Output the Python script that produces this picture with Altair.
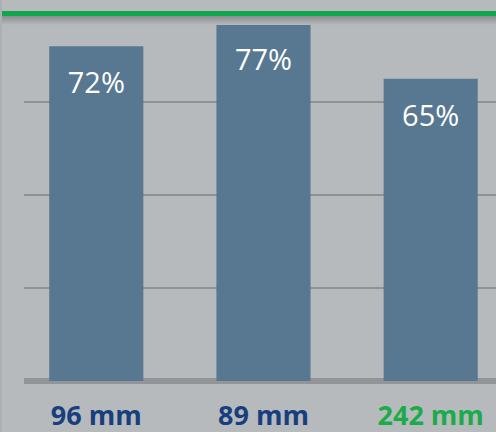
import altair as alt
import pandas as pd

# Share of samples per window size
categories = ["96 mm", "89 mm", "242 mm"]
shares = [72, 77, 65]
share_labels = ["72%", "77%", "65%"]
grid_values = [20, 40, 60]

BG = "#b7babd"
BAR = "#587891"
GRID = "#8f9295"
BLUE = "#173f7e"
GREEN = "#1aab4b"
FONT = "Open Sans"

df = pd.DataFrame({"cat": categories, "share": shares, "label": share_labels})

x_enc = alt.X(
    "cat:N",
    sort=categories,
    scale=alt.Scale(paddingInner=0.437, paddingOuter=0.13, align=0.58),
    axis=alt.Axis(
        title=None,
        labelAngle=0,
        ticks=False,
        domain=False,
        labelFont=FONT,
        labelFontSize=27,
        labelFontWeight="bold",
        labelBaseline="alphabetic",
        labelPadding=43,
        labelColor=alt.ExprRef("datum.value == '242 mm' ? '" + GREEN + "' : '" + BLUE + "'"),
    ),
)
y_scale = alt.Scale(domain=[0, 81.94], nice=False, zero=True)
y_enc = alt.Y("share:Q", scale=y_scale, axis=None)

base = alt.Chart(df)

# horizontal guide lines
grid = alt.Chart(pd.DataFrame({"g": grid_values})).mark_rule(
    color=GRID, strokeWidth=2
).encode(y=alt.Y("g:Q", scale=y_scale, axis=None))

# baseline under the bars
baseline = alt.Chart(pd.DataFrame({"v": [0]})).mark_rule(
    color="#929497", strokeWidth=6
).encode(y=alt.Y("v:Q", scale=y_scale, axis=None))

bars = base.mark_bar(color=BAR).encode(x=x_enc, y=y_enc)

labels = base.mark_text(
    color="white", font=FONT, fontSize=29, baseline="middle", dy=38
).encode(x=alt.X("cat:N", sort=categories), y=alt.Y("share:Q", scale=y_scale), text="label:N")

# green header stripe with a soft shadow beneath
deco = pd.DataFrame({"k": [0]})
shadow = alt.Chart(deco).mark_rect(
    fill=alt.Gradient(
        gradient="linear",
        x1=0, x2=0, y1=0, y2=1,
        stops=[
            alt.GradientStop(color="#8a8d90", offset=0),
            alt.GradientStop(color=BG, offset=1),
        ],
    )
).encode(x=alt.value(-24), x2=alt.value(472), y=alt.value(16), y2=alt.value(25))
stripe = alt.Chart(deco).mark_rect(color="#10a84d").encode(
    x=alt.value(-24), x2=alt.value(472), y=alt.value(11), y2=alt.value(16)
)
edge = alt.Chart(deco).mark_rect(color="#adb0b3").encode(
    x=alt.value(-24), x2=alt.value(-22), y=alt.value(0), y2=alt.value(432)
)

chart = (
    alt.layer(grid, baseline, bars, labels, shadow, stripe, edge)
    .properties(
        width=472,
        height=381,
        padding={"left": 24, "top": 0, "right": 0, "bottom": 51},
        autosize=alt.AutoSizeParams(type="none"),
        background=BG,
    )
    .configure_view(stroke=None, fill=BG)
)

chart.save("out.html", embed_options={"renderer": "svg", "actions": False})
